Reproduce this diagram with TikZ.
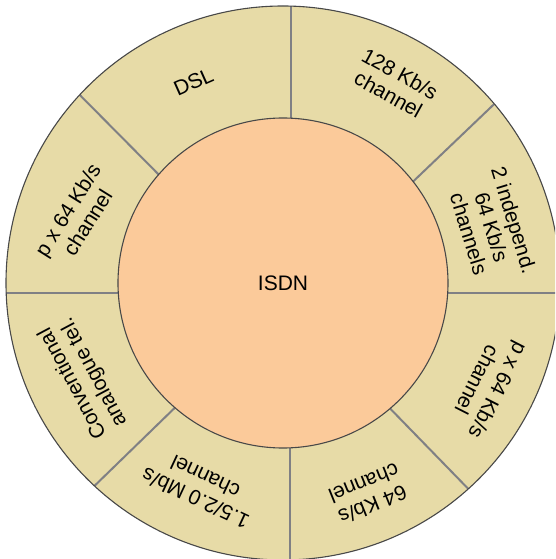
\documentclass[tikz,border=0pt]{standalone}
\usepackage{fontspec}
\setmainfont{Liberation Sans}
\definecolor{ringfill}{RGB}{231,219,167}
\definecolor{corefill}{RGB}{251,202,154}
\definecolor{rimline}{RGB}{72,72,72}
\definecolor{spokeline}{RGB}{128,128,132}
\begin{document}
\begin{tikzpicture}[x=1pt,y=1pt,
  rim/.style={draw=rimline,line width=1.1pt},
  spoke/.style={draw=spokeline,line width=2pt},
  lbl/.style={font=\fontsize{21}{23.5}\selectfont,align=center,inner sep=0pt}]
\useasboundingbox (-283,-276) rectangle (272,283);
\clip (-283,-276) rectangle (272,283);

% outer ring
\fill[ringfill] (0,0) circle (277);
\begin{scope}
  \clip (0,0) circle (277);
  \draw[spoke] (8,150) -- (8,290);
  \draw[spoke] (150,-10) -- (290,-10);
  \draw[spoke] (7,-150) -- (7,-290);
  \draw[spoke] (-150,-10) -- (-290,-10);
  \draw[spoke] (-110,94) -- (-220,205);
  \draw[spoke] (116,88) -- (228,195);
  \draw[spoke] (93,-111) -- (200,-221);
  \draw[spoke] (-95,-112) -- (-201,-215);
\end{scope}
\draw[rim] (0,0) circle (277);

% core
\filldraw[rim,fill=corefill] (0,0) circle (165);
\node[lbl] (isdn) at (0,0) {ISDN};

% ring labels
\node[lbl,rotate=24]  (dsl)  at (114:220)   {DSL};
\node[lbl,rotate=-29] (k128) at (60.8:228)  {128 Kb/s\\channel};
\node[lbl,rotate=-73] (ind)  at (15:216)    {2 independ.\\64 Kb/s\\channels};
\node[lbl,rotate=58]  (pxa)  at (162:216)   {p x 64 Kb/s\\channel};
\node[lbl,rotate=118] (conv) at (205.4:221) {Conventional\\analogue tel.};
\node[lbl,rotate=155] (mbs)  at (248:221)   {1.5/2.0 Mb/s\\channel};
\node[lbl,rotate=202] (k64)  at (-68:228)   {64 Kb/s\\channel};
\node[lbl,rotate=243] (pxb)  at (-26.5:229) {p x 64 Kb/s\\channel};
\end{tikzpicture}
\end{document}
